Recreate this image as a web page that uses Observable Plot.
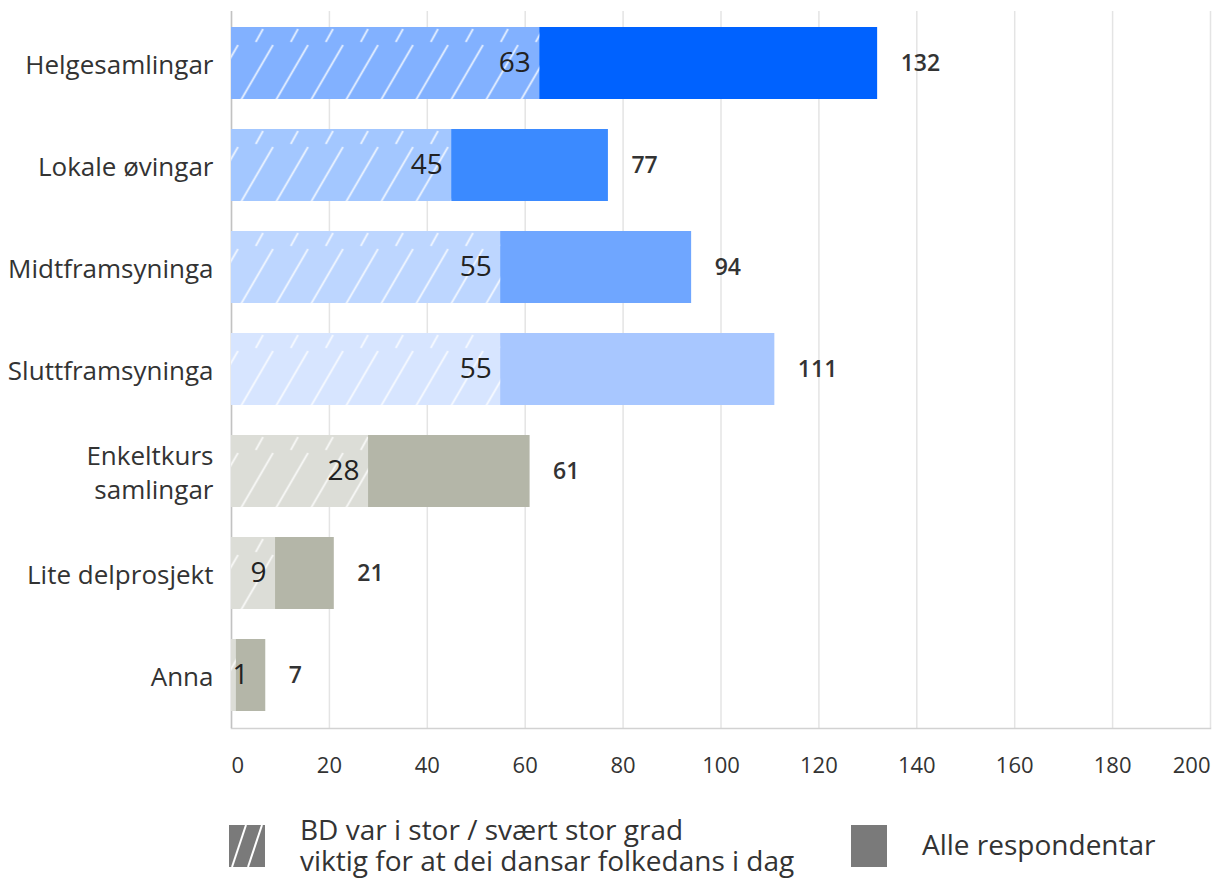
<!DOCTYPE html>
<html>
<head>
<meta charset="utf-8">
<script src="https://cdn.jsdelivr.net/npm/d3@7"></script>
<script src="https://cdn.jsdelivr.net/npm/@observablehq/plot@0.6"></script>
<style>
  body { margin: 0; background: #fff; font-family: "Open Sans", sans-serif; }
  #wrap { position: relative; width: 1216px; height: 880px; overflow: hidden; }
  #chart { position: absolute; left: 0; top: 0; }
  .lg { position: absolute; color: #333; font-size: 28px; line-height: 31px; white-space: pre; }
  .sw { position: absolute; }
</style>
</head>
<body>
<div id="wrap">
  <div id="chart"></div>
  <div id="legend"></div>
</div>
<script>
// ---- data ----
const categories = ["Helgesamlingar", "Lokale øvingar", "Midtframsyninga", "Sluttframsyninga", "Enkeltkurs\nsamlingar", "Lite delprosjekt", "Anna"];
const bdValues  = [63, 45, 55, 55, 28, 9, 1];
const allValues = [132, 77, 94, 111, 61, 21, 7];
const xTicks = [0, 20, 40, 60, 80, 100, 120, 140, 160, 180, 200];
const legendLabels = ["BD var i stor / svært stor grad\nviktig for at dei dansar folkedans i dag", "Alle respondentar"];

// ---- styles ----
const totalColors = ["#0062ff", "#3b8aff", "#6fa6ff", "#a8c7ff", "#b4b6a8", "#b4b6a8", "#b4b6a8"];
const bdColors    = ["#82b1ff", "#a3c7ff", "#bdd6ff", "#d7e5ff", "#dcddd7", "#dcddd7", "#dcddd7"];

const data = categories.map((c, i) => ({category: c, bd: bdValues[i], all: allValues[i], i}));

const W = 1216, H = 800;
const midTicks = xTicks.slice(1, -1);
const axisOpts = {tickSize: 0, tickPadding: 29, fontSize: 22, fill: "#333", label: null};

const chart = Plot.plot({
  width: W,
  height: H,
  marginLeft: 231,
  marginRight: 6,
  marginTop: 11,
  marginBottom: 72,
  style: {fontFamily: "'Open Sans', sans-serif", background: "#fff", overflow: "visible"},
  x: {domain: [0, 200]},
  y: {domain: categories, paddingInner: 0.29, paddingOuter: 0.145},
  color: {type: "identity"},
  marks: [
    Plot.gridX(xTicks, {stroke: "#e4e4e4", strokeOpacity: 1, strokeWidth: 1.5}),
    Plot.frame({anchor: "bottom", stroke: "#d2d2d2", strokeWidth: 1.5}),
    Plot.ruleX([0], {stroke: "#c2c2c2", strokeWidth: 1.5}),
    Plot.barX(data, {y: "category", x: "all", fill: d => totalColors[d.i]}),
    Plot.barX(data, {y: "category", x: "bd", fill: d => bdColors[d.i]}),
    Plot.barX(data, {y: "category", x: "bd", fill: "url(#hatch)"}),
    Plot.text(data.filter(d => d.bd >= 5), {y: "category", x: "bd", text: d => String(d.bd), textAnchor: "end", dx: -9, fontSize: 28, fill: "#222"}),
    Plot.text(data.filter(d => d.bd < 5), {y: "category", x: 0, text: d => String(d.bd), textAnchor: "start", dx: 1, fontSize: 28, fill: "#222"}),
    Plot.text(data, {y: "category", x: "all", text: d => String(d.all), textAnchor: "start", dx: 23, fontSize: 23, fontWeight: 600, fill: "#333"}),
    Plot.axisY({tickSize: 0, tickPadding: 18, fontSize: 26, lineHeight: 1.3, fill: "#333", label: null}),
    Plot.axisX([xTicks[0]], {...axisOpts, textAnchor: "start"}),
    Plot.axisX(midTicks, axisOpts),
    Plot.axisX([xTicks[xTicks.length - 1]], {...axisOpts, textAnchor: "end"})
  ]
});

// hatch pattern anchored to the band layout
const ys = chart.scale("y");
const step = ys.step || ((H - 72 - 11) / categories.length);
const top0 = ys.apply(categories[0]);
const xs = chart.scale("x");
const px0 = xs.apply(0);
const defs = d3.select(chart).insert("defs", ":first-child");
defs.html(
  `<pattern id="hatch" patternUnits="userSpaceOnUse" x="${px0 + 8.5}" y="${top0 + 1}" width="35" height="${step}">
     <line x1="16.3" y1="14" x2="23.5" y2="1" stroke="#fff" stroke-width="1.6" stroke-opacity="0.85"/>
     <line x1="1.5" y1="72" x2="33.5" y2="17" stroke="#fff" stroke-width="1.6" stroke-opacity="0.85"/>
   </pattern>`
);

document.getElementById("chart").appendChild(chart);

// ---- legend ----
const lg = document.getElementById("legend");
lg.innerHTML = `
  <svg class="sw" style="left:229px;top:825px" width="36" height="42">
    <rect width="36" height="42" fill="#7a7a7a"/>
    <line x1="3" y1="42" x2="17" y2="0" stroke="#fff" stroke-width="2"/>
    <line x1="19" y1="42" x2="33" y2="0" stroke="#fff" stroke-width="2"/>
  </svg>
  <div class="lg" style="left:300px;top:814px"></div>
  <svg class="sw" style="left:851px;top:825px" width="36" height="42">
    <rect width="36" height="42" fill="#7a7a7a"/>
  </svg>
  <div class="lg" style="left:922px;top:829px"></div>`;
const lgTexts = lg.querySelectorAll(".lg");
lgTexts[0].textContent = legendLabels[0];
lgTexts[1].textContent = legendLabels[1];
</script>
</body>
</html>
